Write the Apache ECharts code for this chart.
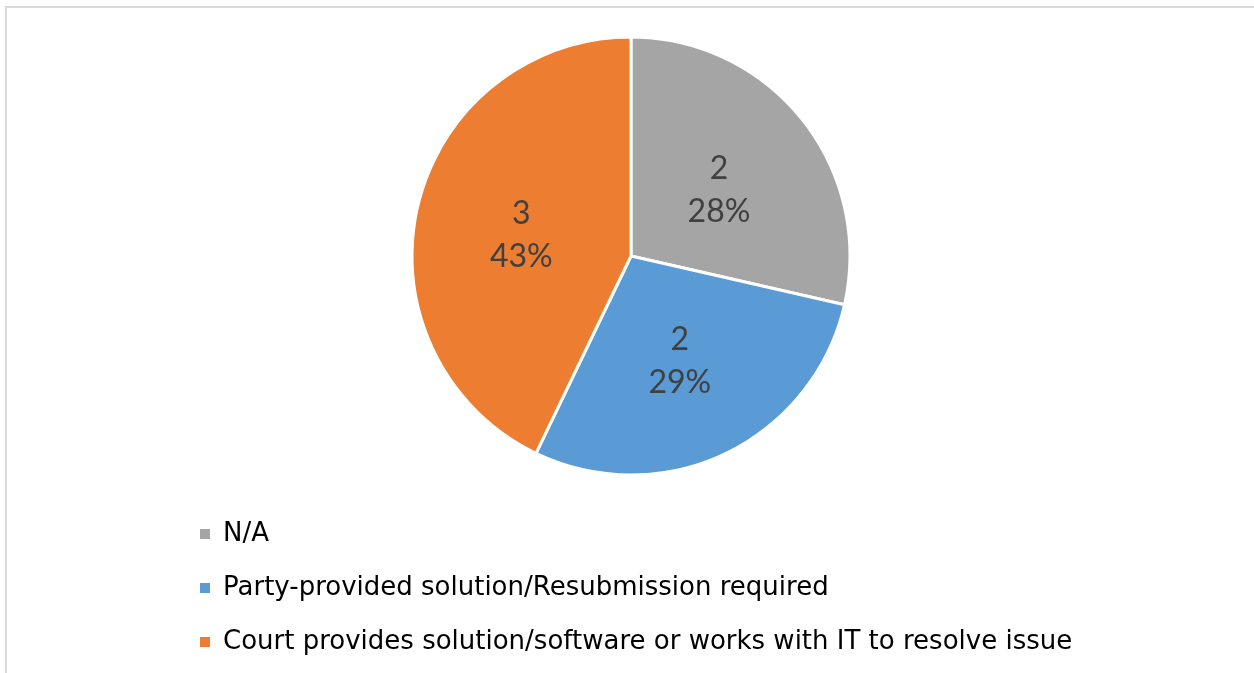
<html>
    <head>
        <meta charset="utf-8">
        <script src="https://cdn.jsdelivr.net/npm/echarts@6/dist/echarts.min.js"></script>
    </head>
    <body style="margin:0">
        <div id="main" style="width:1254px;height:673px"></div>

        <script>
            var categories = ['N/A', 'Party-provided solution/Resubmission required', 'Court provides solution/software or works with IT to resolve issue'];
            var values = [2, 2, 3];
            // percentages as printed on the original chart
            var percentLabels = ['28%', '29%', '43%'];
            var colors = ['#a5a5a5', '#5b9bd5', '#ed7d31'];

            function draw() {
                var chart = echarts.init(document.getElementById('main'));

                chart.setOption({
                    animation: false,
                    textStyle: {fontFamily: 'Lato'},
                    graphic: [{
                        type: 'rect',
                        shape: {x: 6, y: 7, width: 1260, height: 700},
                        style: {fill: 'none', stroke: '#d9d9d9', lineWidth: 2},
                        silent: true
                    }],
                    legend: {
                        orient: 'vertical',
                        left: 198,
                        top: 521,
                        padding: 0,
                        itemWidth: 12,
                        itemHeight: 12,
                        itemGap: 28,
                        icon: 'rect',
                        data: categories,
                        textStyle: {fontSize: 26, lineHeight: 26, color: '#000', fontFamily: '"DejaVu Sans"', padding: [0, 0, 0, 7]}
                    },
                    series: [{
                        type: 'pie',
                        center: [631, 256],
                        radius: 219,
                        startAngle: 90,
                        clockwise: true,
                        itemStyle: {borderColor: '#fff', borderWidth: 3},
                        label: {
                            position: 'inside',
                            color: '#404040',
                            fontSize: 32,
                            lineHeight: 43,
                            offset: [0, 4],
                            fontFamily: 'Lato',
                            formatter: function (p) {
                                return p.value + '\n' + percentLabels[p.dataIndex];
                            }
                        },
                        labelLine: {show: false},
                        data: categories.map(function (name, i) {
                            return {name: name, value: values[i], itemStyle: {color: colors[i]}};
                        })
                    }]
                });
            }

            Promise.all([
                document.fonts.load('26px "DejaVu Sans"'),
                document.fonts.load('32px Lato')
            ]).then(draw, draw);
        </script>
    </body>
</html>
